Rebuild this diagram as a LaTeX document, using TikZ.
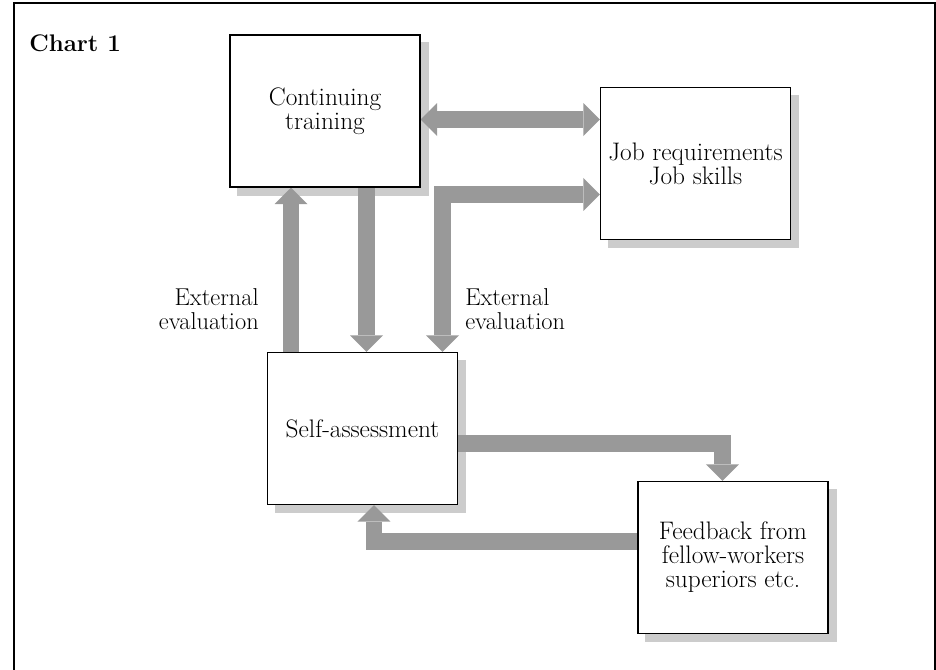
\documentclass[tikz,border=0pt]{standalone}
\usepackage{xcolor}
\usepackage{tikz}
\usetikzlibrary{arrows.meta,backgrounds}
\definecolor{pen}{HTML}{000000}
\definecolor{flow}{HTML}{999999}
\definecolor{shadowgray}{HTML}{CCCCCC}
\tikzset{
  box/.style={draw=pen, fill=white, line width=0.9pt, minimum width=142.5pt, minimum height=114pt, inner sep=0pt, align=center, font=\fontsize{19}{18}\selectfont},
  fat/.style={draw=flow, line width=12.4pt, >={Triangle[length=12.4pt,width=24.75pt,line width=0pt]}},
  frame/.style={draw=pen, line width=1pt},
  boxshadow/.style={fill=shadowgray},
  lab/.style={text=pen, inner sep=0pt, font=\fontsize{18.3}{18}\selectfont},
  title/.style={text=pen, inner sep=0pt, font=\fontsize{18}{18}\selectfont\bfseries},
}

\begin{document}
\begin{tikzpicture}[x=0.75pt,y=-0.75pt]
  \useasboundingbox (0,0) rectangle (936,670);
  \draw[frame] (14,670) -- (14,3) -- (935,3) -- (935,670);
  \node[title,anchor=base west] (chart) at (29,52) {Chart 1};

  \node[box] (CT) at (325,111) {Continuing\\training};
  \node[box] (JR) at (695.5,163.5) {Job requirements\\Job skills};
  \node[box] (SA) at (362.5,428.5) {Self-assessment};
  \node[box] (FB) at (733,557.5) {Feedback from\\fellow-workers\\superiors etc.};

  \node[lab,align=right,anchor=east] (extL) at (259,309) {External\\evaluation};
  \node[lab,align=left,anchor=west] (extR) at (465,309) {External\\evaluation};

  \begin{scope}[on background layer]
    \foreach \n in {CT,JR,SA,FB}
      \fill[boxshadow] ([shift={(6pt,-6pt)}]\n.south west) rectangle ([shift={(6pt,-6pt)}]\n.north east);
    % flows between the boxes
    \draw[fat,->] ([xshift=-53.6pt]SA.north) -- ([xshift=-53.6pt]SA.north |- CT.south);
    \draw[fat,->] ([xshift=3pt]SA.north |- CT.south) -- ([xshift=3pt]SA.north);
    \draw[fat,<->] ([xshift=60pt]SA.north) |- ([yshift=-23.25pt]JR.west);
    \draw[fat,<->] ([yshift=-6.4pt]CT.east) -- ([yshift=-6.4pt]CT.east -| JR.west);
    \draw[fat,->] ([yshift=-11.25pt]SA.east) -| ([xshift=-7.9pt]FB.north);
    \draw[fat,->] ([yshift=12pt]FB.west) -| ([xshift=8.6pt]SA.south);
  \end{scope}
\end{tikzpicture}
\end{document}
